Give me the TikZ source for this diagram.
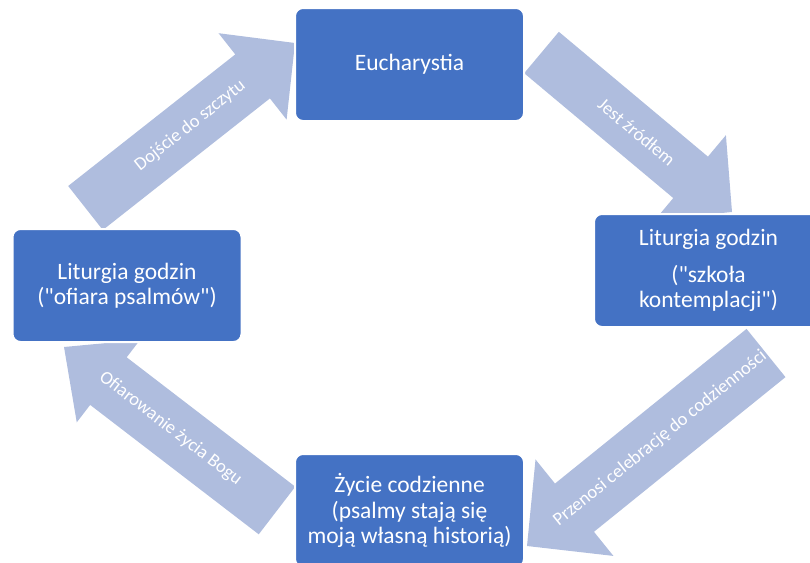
\documentclass[tikz,border=0pt]{standalone}
\usepackage{fontspec}
\setmainfont{Carlito}[Ligatures=TeXOff]
\usetikzlibrary{calc}
\definecolor{boxblue}{HTML}{4472C4}
\definecolor{arrowfill}{RGB}{175,189,222}
\tikzset{
  cyclebox/.style={rounded corners=8pt, fill=boxblue, draw=white, line width=2pt,
    minimum width=229pt, minimum height=113pt, inner sep=2pt, align=center,
    text=white, font=\fontsize{23.5}{25.5}\selectfont},
  arrowtext/.style={text=white, font=\fontsize{18.5}{20}\selectfont, inner sep=0pt},
}
\newcommand\bkarrow[7]{%
  \path ($(#2)!#5!(#1)$) coordinate (hb);
  \fill[arrowfill] ($(#1)!#3!90:(#2)$) -- ($(hb)!#3!90:(#2)$) -- ($(hb)!#4!90:(#2)$)
    -- (#2) -- ($(hb)!#4!-90:(#2)$) -- ($(hb)!#3!-90:(#2)$) -- ($(#1)!#3!-90:(#2)$) -- cycle;
  \path (#1) -- (#2) node[pos=#6, sloped, arrowtext] {#7};
}
\begin{document}
\begin{tikzpicture}[x=1pt, y=-1pt]
\useasboundingbox (0,0) rectangle (810,562);
\clip (0,0) rectangle (810,562);
% arrow end points
\coordinate (t1) at (85.5,208);  \coordinate (p1) at (295,43);
\coordinate (t2) at (541.5,52.5); \coordinate (p2) at (732,212);
\coordinate (t3) at (766,353);   \coordinate (p3) at (527,546);
\coordinate (t4) at (277,510.5); \coordinate (p4) at (64,347);
\bkarrow{t1}{p1}{28pt}{55pt}{54pt}{0.5}{Dojście do szczytu}
\bkarrow{t2}{p2}{27pt}{55pt}{54pt}{0.5}{Jest źródłem}
\bkarrow{t3}{p3}{31pt}{62pt}{61pt}{0.443}{Przenosi celebrację do codzienności}
\bkarrow{t4}{p4}{30pt}{52pt}{56pt}{0.5}{Ofiarowanie życia Bogu}
% boxes
\node[cyclebox] (euch) at (409.5,64.5) {Eucharystia};
\node[cyclebox] (lgs) at (708.5,270.5) {Liturgia godzin\\[11pt]("szkoła\\kontemplacji")};
\node[cyclebox] (zycie) at (409.5,510.5) {Życie codzienne\\(psalmy stają się\\moją własną historią)};
\node[cyclebox] (lgo) at (127,285.5) {Liturgia godzin\\("ofiara psalmów")};
\end{tikzpicture}
\end{document}
